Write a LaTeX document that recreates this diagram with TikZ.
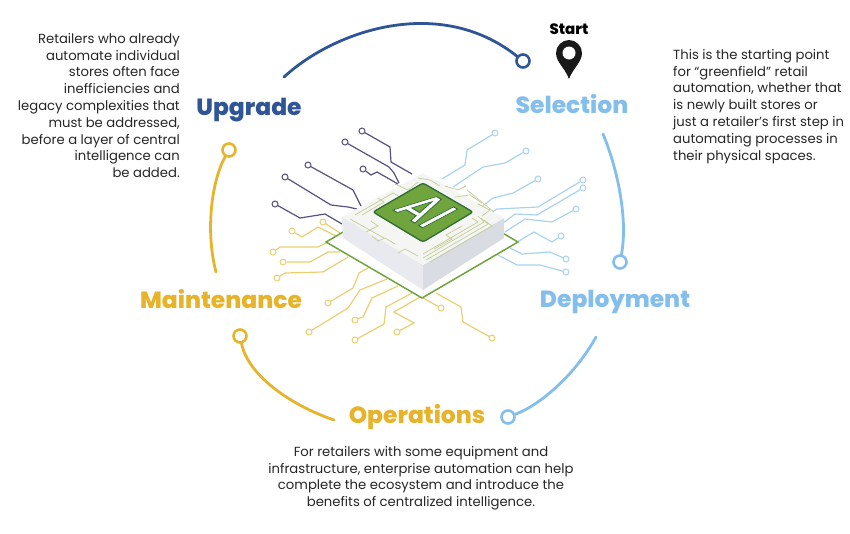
\documentclass[tikz,border=0pt]{standalone}
\usepackage{fontspec}
\usepackage{xcolor}
\setmainfont{Poppins}
\newfontfamily\heavyfont{Poppins ExtraBold}
\newfontfamily\chipfont[FakeBold=2]{Poppins Medium}
\definecolor{upblue}{HTML}{2F5597}
\definecolor{skyblue}{HTML}{84BEEC}
\definecolor{goldy}{HTML}{E6B32A}
\definecolor{darktrace}{HTML}{55527F}
\definecolor{skytrace}{HTML}{A9D3EC}
\definecolor{goldtrace}{HTML}{E8CF70}
\definecolor{padgreen}{HTML}{6FA53C}
\definecolor{paddark}{HTML}{2F6B35}
\definecolor{chiptrace}{HTML}{C4CE96}
\definecolor{chiptop}{HTML}{F5F5F3}
\definecolor{chipleft}{HTML}{E8EAF0}
\definecolor{chipright}{HTML}{D9DCE3}
\tikzset{
  title/.style={font=\fontsize{23.4}{25}\selectfont\heavyfont, inner sep=0pt},
  body/.style={font=\fontsize{13.2}{16.8}\selectfont, text=black!85, inner sep=0pt},
  arcline/.style={line width=2.8pt, line cap=round},
  ring/.style={circle, draw, fill=white, line width=2.6pt, minimum size=13pt, inner sep=0pt},
  pin/.style={circle, draw, fill=white, line width=1pt, minimum size=6pt, inner sep=0pt},
  tracedark/.style={draw=darktrace, line width=1.2pt},
  tracesky/.style={draw=skytrace, line width=1.2pt},
  tracegold/.style={draw=goldtrace, line width=1.2pt},
  tracechip/.style={draw=chiptrace, line width=0.7pt}
}
\begin{document}
\begin{tikzpicture}[x=1pt,y=-1pt]
  \useasboundingbox (0,0) rectangle (850,533);

  % Pins at the free ends of the traces
  \foreach \name/\x/\y in {d1/362/131, d2/345/142, d3/363/169, d4/308/165, d5/285/177, d6/275/204} {
    \node[pin, draw=darktrace] (\name) at (\x,\y) {};
  }
  \foreach \name/\x/\y in {s1/495/133, s2/526/151, s3/538/179, s4/583/180, s5/583/188, s6/576/209, s7/561/236, s8/566/259, s9/566/272} {
    \node[pin, draw=skytrace] (\name) at (\x,\y) {};
  }
  \foreach \name/\x/\y in {g1/323/222, g2/292/231, g3/273/252, g4/283/262, g5/277/278, g6/328/303, g7/309/332, g8/355/320, g9/355/340, g10/397/332, g11/441/308, g12/492/338} {
    \node[pin, draw=goldtrace] (\name) at (\x,\y) {};
  }

  % Dark traces
  \draw[tracedark] (d1) -- (390,147) -- (391,162) -- (412,174);
  \draw[tracedark] (d2) -- (389,167) -- (394,173) -- (399,183);
  \draw[tracedark] (d3) -- (371,175) -- (377,172) -- (398,184);
  \draw[tracedark] (d4) -- (353,190) -- (361,206);
  \draw[tracedark] (d5) -- (331,205) -- (348,207) -- (357,209);
  \draw[tracedark] (d6) -- (300,218) -- (325,214) -- (342,224);

  % Light blue traces
  \draw[tracesky] (s1) -- (467,150) -- (465,165) -- (442,179);
  \draw[tracesky] (s2) -- (505,163) -- (483,167) -- (453,187);
  \draw[tracesky] (s3) -- (513,193) -- (493,198) -- (480,208);
  \draw[tracesky] (s4) -- (538,207) -- (497,209) -- (487,215);
  \draw[tracesky] (s5) -- (537,215) -- (515,214) -- (503,223);
  \draw[tracesky] (s6) -- (552,222) -- (525,219) -- (505,232);
  \draw[tracesky] (s7) -- (552,242) -- (534,232) -- (517,242);
  \draw[tracesky] (s8) -- (550,252) -- (522,254) -- (510,248);
  \draw[tracesky] (s9) -- (540,265) -- (517,265) -- (498,255);

  % Yellow traces
  \draw[tracegold] (g1) -- (340,233);
  \draw[tracegold] (g2) -- (302,237) -- (318,227) -- (340,238);
  \draw[tracegold] (g3) -- (280,247) -- (318,247) -- (328,242);
  \draw[tracegold] (g4) -- (310,262) -- (328,252) -- (340,252);
  \draw[tracegold] (g5) -- (285,273) -- (323,272) -- (348,257);
  \draw[tracegold] (g6) -- (353,288) -- (359,273) -- (368,268);
  \draw[tracegold] (g7) -- (348,308) -- (360,290) -- (387,279);
  \draw[tracegold] (g8) -- (363,317) -- (372,298) -- (398,286);
  \draw[tracegold] (g9) -- (384,324) -- (386,307) -- (412,293);
  \draw[tracegold] (g10) -- (414,323) -- (394,312) -- (420,297);
  \draw[tracegold] (g11) -- (423,298);
  \draw[tracegold] (g12) -- (463,322) -- (461,307) -- (436,293);

  % Chip on its board
  \draw[fill=white, draw=padgreen, line width=1.5pt] (326,242) -- (422,186) -- (518,242) -- (422,298) -- cycle;
  \fill[chipleft] (342,217) -- (423,265) -- (423,290) -- (343,238) -- cycle;
  \fill[chipright] (504,218) -- (423,265) -- (423,290) -- (504,238) -- cycle;
  \fill[chiptop] (342,217) -- (423,173) -- (504,218) -- (423,265) -- cycle;

  % Thin lines on top of the chip
  \draw[tracechip] (423,258) -- (484,222) -- (478,216);
  \draw[tracechip] (423,254) -- (478,222) -- (472,218);
  \draw[tracechip] (426,260) -- (488,224) -- (481,218);
  \draw[tracechip] (430,262) -- (492,226) -- (484,220);
  \draw[tracechip] (418,256) -- (405,249) -- (398,253);
  \draw[tracechip] (434,249) -- (452,239) -- (446,235) -- (462,226);
  \draw[tracechip] (395,244) -- (385,238) -- (378,241) -- (372,236);
  \draw[tracechip] (366,232) -- (378,226) -- (371,221);
  \draw[tracechip] (350,219) -- (384,238);
  \draw[tracechip] (355,215) -- (393,193) -- (402,198);
  \draw[tracechip] (362,215) -- (384,202) -- (378,198);
  \draw[tracechip] (395,184) -- (408,190) -- (418,182);
  \draw[tracechip] (418,178) -- (430,180) -- (440,186);
  \draw[tracechip] (445,186) -- (458,190) -- (466,186);
  \draw[tracechip] (455,197) -- (470,195) -- (482,203);
  \draw[tracechip] (478,204) -- (490,210) -- (482,216);
  \draw[tracechip] (467,190) -- (494,212);

  % Green pad with the letters
  \draw[fill=padgreen, draw=paddark, line width=1.3pt, rounded corners=2.5pt] (373,212) -- (423,183) -- (473,212) -- (423,242) -- cycle;
  \begin{scope}[shift={(426,210)}, cm={0.6,-0.36,0.866,0.46,(0,0)}]
    \node[transform shape, text=white, font=\fontsize{58}{58}\selectfont\chipfont, inner sep=0pt] (ailabel) at (0,0) {\special{pdf:code 0.18 0.42 0.21 RG}AI};
  \end{scope}

  % Map pin
  \node[font=\fontsize{15}{16}\selectfont\heavyfont, inner sep=0pt] (start) at (569,29) {Start};
  \fill[black!90] (569,79) .. controls (565,68) and (556,62) .. (556,53)
    .. controls (556,46) and (562,40) .. (569,40)
    .. controls (576,40) and (582,46) .. (582,53)
    .. controls (582,62) and (573,68) .. (569,79) -- cycle;
  \node[circle, fill=white, minimum size=13pt, inner sep=0pt] (pinhole) at (569,53) {};

  % Stage names
  \node[title, text=upblue] (upgrade) at (249,110) {Upgrade};
  \node[title, text=skyblue] (selection) at (572,104) {Selection};
  \node[title, text=skyblue] (deployment) at (615,302) {Deployment};
  \node[title, text=goldy] (operations) at (417,417) {Operations};
  \node[title, text=goldy] (maintenance) at (221,299) {Maintenance};

  % Arcs between the stages
  \coordinate (upstart) at (284,77);
  \coordinate (selstart) at (603,134);
  \coordinate (depstart) at (596,337);
  \coordinate (opstart) at (334,420);
  \coordinate (mainstart) at (216,272);
  \node[ring, draw=upblue] (upring) at (523,61) {};
  \node[ring, draw=skyblue] (selring) at (620,262) {};
  \node[ring, draw=skyblue] (depring) at (508,417) {};
  \node[ring, draw=goldy] (opring) at (240,336) {};
  \node[ring, draw=goldy] (mainring) at (229,150) {};
  \draw[arcline, upblue] (upstart) .. controls (335,30) and (440,-5) .. (upring);
  \draw[arcline, skyblue] (selstart) .. controls (618,170) and (628,220) .. (selring);
  \draw[arcline, skyblue] (depstart) .. controls (575,375) and (540,405) .. (depring);
  \draw[arcline, goldy] (opstart) .. controls (290,405) and (248,375) .. (opring);
  \draw[arcline, goldy] (mainstart) .. controls (205,230) and (212,180) .. (mainring);

  % Text blocks
  \node[body, align=right, anchor=north east] (lefttext) at (180,33) {Retailers who already\\automate individual\\stores often face\\inefficiencies and\\legacy complexities that\\must be addressed,\\before a layer of central\\intelligence can\\be added.};
  \node[body, align=left, anchor=north west] (righttext) at (673,49) {This is the starting point\\for “greenfield” retail\\automation, whether that\\is newly built stores or\\just a retailer’s first step in\\automating processes in\\their physical spaces.};
  \node[body, align=center, anchor=north] (bottomtext) at (421,446) {For retailers with some equipment and\\infrastructure, enterprise automation can help\\complete the ecosystem and introduce the\\benefits of centralized intelligence.};
\end{tikzpicture}
\end{document}
